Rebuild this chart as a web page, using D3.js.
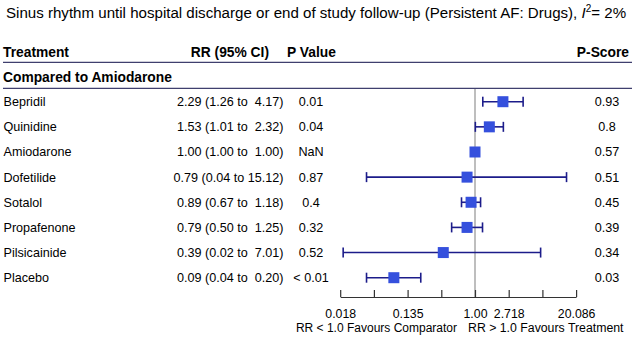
<!DOCTYPE html>
<html>
<head>
<meta charset="utf-8">
<script src="https://cdn.jsdelivr.net/npm/d3@7"></script>
<style>
  body { margin: 0; background: #fff; }
  svg text { font-family: "Liberation Sans", Arial, sans-serif; white-space: pre; }
</style>
</head>
<body>
<div class="container"></div>
<script>
var treatments = ["Bepridil", "Quinidine", "Amiodarone", "Dofetilide", "Sotalol", "Propafenone", "Pilsicainide", "Placebo"];
var rr = [2.29, 1.53, 1.00, 0.79, 0.89, 0.79, 0.39, 0.09];
var lower = [1.26, 1.01, 1.00, 0.04, 0.67, 0.50, 0.02, 0.04];
var upper = [4.17, 2.32, 1.00, 15.12, 1.18, 1.25, 7.01, 0.20];
var rrLabels = ["2.29 (1.26 to  4.17)", "1.53 (1.01 to  2.32)", "1.00 (1.00 to  1.00)", "0.79 (0.04 to 15.12)",
                "0.89 (0.67 to  1.18)", "0.79 (0.50 to  1.25)", "0.39 (0.02 to  7.01)", "0.09 (0.04 to  0.20)"];
var pValues = ["0.01", "0.04", "NaN", "0.87", "0.4", "0.32", "0.52", "< 0.01"];
var pScores = ["0.93", "0.8", "0.57", "0.51", "0.45", "0.39", "0.34", "0.03"];
var tickPowers = [-4, -3, -2, -1, 0, 1, 2, 3];
var tickLabels = {"-4": "0.018", "-2": "0.135", "0": "1.00", "1": "2.718", "3": "20.086"};

var loadChart = function () {
    const WIDTH = 635;
    const HEIGHT = 338;
    var svg = d3.select('.container').append('svg')
        .attr('width', WIDTH).attr('height', HEIGHT);

    var xScale = d3.scaleLog().base(Math.E)
        .domain([Math.exp(-4), Math.exp(3)])
        .range([340.2, 576.1]);
    var yScale = d3.scalePoint()
        .domain(treatments)
        .range([101.7, 277.7]);

    // title
    var title = svg.append('text').attr('x', 6).attr('y', 18).attr('font-size', 15.1);
    title.append('tspan').text('Sinus rhythm until hospital discharge or end of study follow-up (Persistent AF: Drugs), ');
    title.append('tspan').attr('font-style', 'italic').text('I');
    title.append('tspan').attr('font-size', 10).attr('dy', -6).text('2');
    title.append('tspan').attr('dy', 6).text('= 2%');

    // headers
    var header = svg.append('g').attr('font-weight', 'bold').attr('font-size', 13.8);
    header.append('text').attr('x', 3).attr('y', 56.5).text('Treatment');
    header.append('text').attr('x', 269).attr('y', 56.5).attr('text-anchor', 'end').text('RR (95% CI)');
    header.append('text').attr('x', 287).attr('y', 56.5).text('P Value');
    header.append('text').attr('x', 629).attr('y', 56.5).attr('text-anchor', 'end').text('P-Score');
    header.append('text').attr('x', 3).attr('y', 81.5).text('Compared to Amiodarone');

    svg.selectAll('.hline').data([62.3, 88.3]).enter().append('line')
        .attr('x1', 3).attr('x2', 632)
        .attr('y1', function (d) { return d; }).attr('y2', function (d) { return d; })
        .attr('stroke', '#3f3f6e').attr('stroke-width', 1.3);

    // reference line at RR = 1
    svg.append('line')
        .attr('x1', xScale(1)).attr('x2', xScale(1))
        .attr('y1', 89).attr('y2', 297)
        .attr('stroke', '#a8a8a8').attr('stroke-width', 1.5);

    // row texts
    var rows = svg.selectAll('.row').data(treatments).enter().append('g')
        .attr('class', 'row')
        .attr('font-size', 12.6);
    rows.append('text').attr('x', 3.5)
        .attr('y', function (d) { return yScale(d) + 4.5; })
        .text(function (d) { return d; });
    rows.append('text').attr('x', 283.5).attr('text-anchor', 'end')
        .attr('y', function (d) { return yScale(d) + 4.5; })
        .text(function (d, i) { return rrLabels[i]; });
    rows.append('text').attr('x', 311).attr('text-anchor', 'middle')
        .attr('y', function (d) { return yScale(d) + 4.5; })
        .text(function (d, i) { return pValues[i]; });
    rows.append('text').attr('x', 607).attr('text-anchor', 'middle')
        .attr('y', function (d) { return yScale(d) + 4.5; })
        .text(function (d, i) { return pScores[i]; });

    // CIs
    var ci = svg.append('g').attr('stroke', '#1c1c8a').attr('stroke-width', 1.6);
    treatments.forEach(function (t, i) {
        if (lower[i] === upper[i]) return;
        var y = yScale(t);
        ci.append('line').attr('x1', xScale(lower[i])).attr('x2', xScale(upper[i]))
            .attr('y1', y).attr('y2', y);
        [lower[i], upper[i]].forEach(function (v) {
            ci.append('line').attr('x1', xScale(v)).attr('x2', xScale(v))
                .attr('y1', y - 5).attr('y2', y + 5);
        });
    });

    // boxes
    svg.selectAll('.box').data(treatments).enter().append('rect')
        .attr('x', function (d, i) { return xScale(rr[i]) - 5.5; })
        .attr('y', function (d) { return yScale(d) - 5.5; })
        .attr('width', 11).attr('height', 11)
        .attr('fill', '#3550dd');

    // axis
    var axis = d3.axisBottom(xScale)
        .tickValues(tickPowers.map(function (p) { return Math.exp(p); }))
        .tickSizeInner(-7).tickSizeOuter(0)
        .tickPadding(12)
        .tickFormat(function (d) {
            var k = String(Math.round(Math.log(d)));
            return tickLabels[k] || '';
        });
    var gAxis = svg.append('g').attr('transform', 'translate(0,297)').call(axis);
    gAxis.selectAll('path, line').attr('stroke', '#333').attr('stroke-width', 1.2);
    gAxis.selectAll('text').attr('font-size', 12.3).attr('fill', '#000')
        .attr('font-family', '"Liberation Sans", Arial, sans-serif');

    svg.append('text').attr('x', 457).attr('y', 332).attr('text-anchor', 'end')
        .attr('font-size', 12).text('RR < 1.0 Favours Comparator');
    svg.append('text').attr('x', 468).attr('y', 332)
        .attr('font-size', 12.3).text('RR > 1.0 Favours Treatment');
};

window.onload = loadChart;
</script>
</body>
</html>
